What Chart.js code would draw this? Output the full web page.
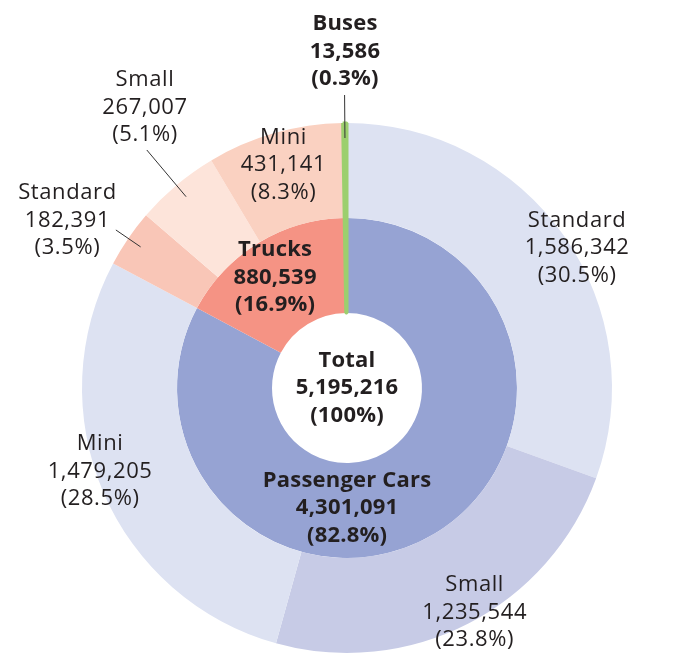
<!DOCTYPE html>
<html>
<head>
<meta charset="utf-8">
<script src="https://cdn.jsdelivr.net/npm/chart.js@4"></script>
<style>
  html, body { margin: 0; padding: 0; background: #fff; }
  #wrap { width: 678px; height: 655px; }
</style>
</head>
<body>
<div id="wrap"><canvas id="vehicleChart" width="678" height="655"></canvas></div>
<script>
// inner ring: vehicle groups
const groupNames = ['Passenger Cars', 'Trucks', 'Buses'];
const groupValues = [4301091, 880539, 13586];
const groupShares = ['82.8%', '16.9%', '0.3%'];

// outer ring: vehicle types (same order, clockwise from top)
const typeNames = ['Standard', 'Small', 'Mini', 'Standard', 'Small', 'Mini', 'Buses'];
const typeValues = [1586342, 1235544, 1479205, 182391, 267007, 431141, 13586];
const typeShares = ['30.5%', '23.8%', '28.5%', '3.5%', '5.1%', '8.3%', '0.3%'];

const totalLabel = ['Total', '5,195,216', '(100%)'];

const groupColors = ['#96a3d3', '#f59384', '#9ccf6e'];
const typeColors = ['#dde2f2', '#c7cbe6', '#dde2f2', '#f9c6b7', '#fde4da', '#fad1c1', '#9ccf6e'];

const fmt = n => n.toLocaleString('en-US');

// label placement, offset from each arc's centroid (px)
const typeLabelShift = [[52, -15], [28, 31], [-47, -2], [-100, -45], [-62, -114], [-4, -14], null];
const groupLabelShift = [[-63, 15], [-8, -6], [-1, -214]];
// leader lines: [from radius, to radius] along the arc's middle angle
const typeLeaders = [null, null, null, [250, 280], [250, 311], null, null];
const groupLeaders = [null, null, [250, 293]];

const textColor = '#231f20';
const lineGap = 27.5;

const labelPlugin = {
  id: 'ringLabels',
  afterDatasetsDraw(chart) {
    const ctx = chart.ctx;
    ctx.save();
    ctx.textAlign = 'center';
    ctx.textBaseline = 'middle';
    ctx.fillStyle = textColor;

    const drawBlock = (lines, x, y, bold) => {
      ctx.font = (bold ? 'bold ' : '') + '22px "Open Sans", sans-serif';
      ctx.letterSpacing = bold ? '0.2px' : '0.6px';
      lines.forEach((t, i) => ctx.fillText(t, x, y + (i - 1) * lineGap));
    };

    const drawLeader = (arc, r) => {
      const p = arc.getProps(['x', 'y', 'startAngle', 'endAngle']);
      const a = (p.startAngle + p.endAngle) / 2;
      ctx.strokeStyle = '#333';
      ctx.lineWidth = 1;
      ctx.beginPath();
      ctx.moveTo(p.x + r[0] * Math.cos(a), p.y + r[0] * Math.sin(a));
      ctx.lineTo(p.x + r[1] * Math.cos(a), p.y + r[1] * Math.sin(a));
      ctx.stroke();
    };

    // outer ring
    chart.getDatasetMeta(0).data.forEach((arc, i) => {
      if (typeLeaders[i]) drawLeader(arc, typeLeaders[i]);
      if (!typeLabelShift[i]) return;
      const c = arc.tooltipPosition();
      drawBlock([typeNames[i], fmt(typeValues[i]), '(' + typeShares[i] + ')'],
        c.x + typeLabelShift[i][0], c.y + typeLabelShift[i][1], false);
    });

    // inner ring
    chart.getDatasetMeta(1).data.forEach((arc, i) => {
      if (groupLeaders[i]) drawLeader(arc, groupLeaders[i]);
      const c = arc.tooltipPosition();
      drawBlock([groupNames[i], fmt(groupValues[i]), '(' + groupShares[i] + ')'],
        c.x + groupLabelShift[i][0], c.y + groupLabelShift[i][1], true);
    });

    // total in the hole
    const first = chart.getDatasetMeta(1).data[0];
    drawBlock(totalLabel, first.x, first.y, true);
    ctx.restore();
  }
};

new Chart(document.getElementById('vehicleChart'), {
  type: 'doughnut',
  data: {
    labels: typeNames,
    datasets: [
      {
        data: typeValues,
        backgroundColor: typeColors,
        borderWidth: typeValues.map((v, i) => i === typeValues.length - 1 ? 3 : 0),
        borderColor: typeColors
      },
      {
        data: groupValues,
        backgroundColor: groupColors,
        borderWidth: groupValues.map((v, i) => i === groupValues.length - 1 ? 3 : 0),
        borderColor: groupColors
      }
    ]
  },
  options: {
    responsive: false,
    animation: false,
    events: [],
    cutout: '28.3%',
    layout: { padding: { left: 80.5, right: 64.5, top: 121.5, bottom: 0.5 } },
    plugins: {
      legend: { display: false },
      tooltip: { enabled: false }
    }
  },
  plugins: [labelPlugin]
});
</script>
</body>
</html>
